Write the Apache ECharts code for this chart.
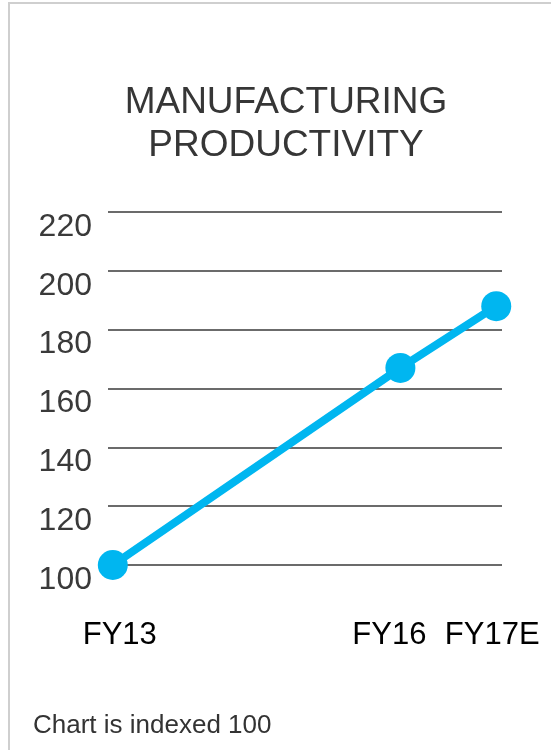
<!DOCTYPE html>
<html>
<head>
<meta charset="utf-8">
<script src="https://cdn.jsdelivr.net/npm/echarts@6/dist/echarts.min.js"></script>
<style>
html,body{margin:0;padding:0;background:#fff;}
#c{width:551px;height:750px;}
</style>
</head>
<body>
<div id="c"></div>
<script>
// Data
const categories = ['FY13', 'FY16', 'FY17E'];
const years = [13, 16, 17];
const productivity = [100, 167, 188];
const yTicks = [100, 120, 140, 160, 180, 200, 220];
const titleLines = ['MANUFACTURING', 'PRODUCTIVITY'];
const footnote = 'Chart is indexed 100';

const chart = echarts.init(document.getElementById('c'), null, {renderer: 'canvas'});
const seriesData = years.map((y, i) => [y, productivity[i]]);
const labelStyle = ['a', 'b', 'c'];
const FONT = 'Liberation Sans, Arial, sans-serif';

chart.setOption({
  animation: false,
  backgroundColor: '#fff',
  graphic: [{
    type: 'rect',
    shape: {x: 9, y: 3, width: 600, height: 800},
    style: {fill: 'none', stroke: '#cfcfcf', lineWidth: 2},
    silent: true
  }],
  title: [{
    text: titleLines.join('\n'),
    left: 281,
    top: 76,
    textAlign: 'center',
    textStyle: {
      fontFamily: FONT,
      fontSize: 37,
      fontWeight: 'normal',
      color: '#363636',
      lineHeight: 43
    }
  }, {
    text: footnote,
    left: 28,
    top: 708,
    textStyle: {
      fontFamily: FONT,
      fontSize: 26,
      fontWeight: 'normal',
      color: '#333'
    }
  }],
  grid: {left: 108, right: 49, top: 212, bottom: 185, containLabel: false},
  xAxis: {
    type: 'value',
    min: 12.95,
    max: 17.06,
    axisLine: {show: false},
    axisTick: {show: false},
    splitLine: {show: false},
    axisLabel: {
      customValues: years,
      margin: 55,
      formatter: function (v) {
        const i = years.indexOf(v);
        return i < 0 ? '' : '{' + labelStyle[i] + '|' + categories[i] + '}';
      },
      rich: {
        a: {fontFamily: FONT, fontSize: 31, color: '#000', padding: [0, 0, 0, 14]},
        b: {fontFamily: FONT, fontSize: 31, color: '#000', padding: [0, 22, 0, 0]},
        c: {fontFamily: FONT, fontSize: 31, color: '#000', padding: [0, 8, 0, 0]}
      }
    }
  },
  yAxis: {
    type: 'value',
    min: yTicks[0],
    max: yTicks[yTicks.length - 1],
    interval: 20,
    axisLine: {show: false},
    axisTick: {show: false},
    splitLine: {show: true, lineStyle: {color: '#3a3a3a', width: 1.6}},
    axisLabel: {
      margin: 16,
      fontFamily: FONT,
      fontSize: 32,
      color: '#3a3a3a',
      verticalAlign: 'top',
      lineHeight: 30
    }
  },
  series: [{
    type: 'line',
    data: seriesData,
    symbol: 'circle',
    symbolSize: 30,
    clip: false,
    itemStyle: {color: '#00B6F0'},
    lineStyle: {color: '#00B6F0', width: 8},
    z: 3
  }]
});
</script>
</body>
</html>
